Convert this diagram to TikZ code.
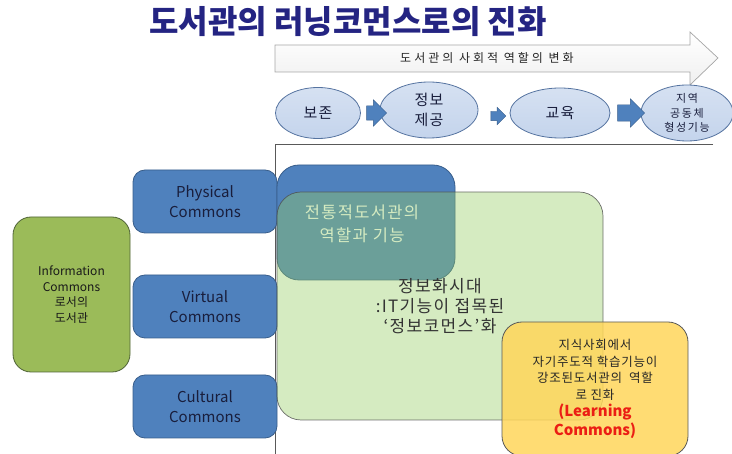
\documentclass[tikz,border=0pt]{standalone}
\usepackage{fontspec}
\setmainfont{Noto Sans CJK KR}
\usetikzlibrary{shapes.geometric,shapes.arrows}
\definecolor{navy}{RGB}{36,36,130}
\definecolor{bblue}{RGB}{79,129,189}
\definecolor{bblueD}{RGB}{56,93,138}
\definecolor{olivebox}{RGB}{155,187,89}
\definecolor{oliveD}{RGB}{80,100,55}
\definecolor{lgreen}{RGB}{150,205,100}
\definecolor{ellfill}{RGB}{196,212,236}
\definecolor{ellline}{RGB}{85,115,160}
\definecolor{ylw}{RGB}{255,214,90}
\definecolor{txtdark}{RGB}{25,30,60}
\definecolor{lcred}{RGB}{235,30,20}
\begin{document}
\begin{tikzpicture}[x=1pt,y=-1pt,
  commons/.style={draw=bblueD, line width=0.8pt, fill=bblue, rounded corners=12pt, inner sep=0pt,
    minimum width=144pt, minimum height=63pt, align=center, text=txtdark,
    font=\fontsize{15}{19.5}\selectfont},
  ell/.style={ellipse, draw=ellline, line width=0.8pt, top color=ellfill!70!white, bottom color=ellfill,
    inner sep=0pt, align=center, text=txtdark},
  barrow/.style={single arrow, draw=bblueD, fill=bblue, inner xsep=0pt}]
\useasboundingbox (0,0) rectangle (732,454);

% title
\node[font=\fontsize{32}{36}\selectfont\bfseries, text=navy] (title) at (348,22) {도서관의 러닝코먼스로의 진화};

% big arrow
\draw[draw=gray!70, top color=white, bottom color=gray!12, line width=0.7pt]
  (275,45) -- (690,45) -- (690,32) -- (718,58) -- (690,85) -- (690,72) -- (275,72) -- cycle;
\node[font=\fontsize{12}{14}\selectfont\addfontfeature{LetterSpace=25}, text=black!85] (role) at (487,58) {도서관의 사회적 역할의 변화};

% frame
\coordinate (fTL) at (275,144);
\coordinate (fTR) at (713,144);
\coordinate (fBL) at (275,454);
\draw[gray!70!black, line width=0.8pt] (fTR) -- (fTL) -- (fBL);

% ellipses
\node[ell, minimum width=85pt, minimum height=51pt, font=\fontsize{15}{19}\selectfont\addfontfeature{LetterSpace=8}] (e1) at (318,113) {보존};
\node[ell, minimum width=98pt, minimum height=56pt, font=\fontsize{15}{20}\selectfont\addfontfeature{LetterSpace=8}] (e2) at (429,110) {정보\\제공};
\node[ell, minimum width=100pt, minimum height=50pt, font=\fontsize{15}{19}\selectfont\addfontfeature{LetterSpace=8}] (e3) at (560,113) {교육};
\node[ell, minimum width=92pt, minimum height=56pt, font=\fontsize{11}{14.5}\selectfont\addfontfeature{LetterSpace=15}] (e4) at (687,113) {지역\\공동체\\형성기능};

\node[barrow, minimum height=20pt, inner ysep=7pt, single arrow head extend=6pt] (a1) at (373,113) {};
\node[barrow, minimum height=15pt, inner ysep=4.5pt, single arrow head extend=4pt] (a2) at (496,116) {};
\node[barrow, minimum height=27pt, inner ysep=8pt, single arrow head extend=6pt] (a3) at (627,113) {};

% information commons box
\node[draw=oliveD, line width=0.8pt, fill=olivebox, rounded corners=18pt, inner sep=0pt,
  minimum width=117pt, minimum height=155pt, align=center, text=black!90,
  font=\fontsize{12}{15.5}\selectfont] (ic) at (71.5,294.5) {Information\\Commons\\로서의\\도서관};

% commons boxes
\node[commons] (phys) at (205,201.5) {Physical\\Commons};
\node[commons] (virt) at (205,306.5) {Virtual\\Commons};
\node[commons] (cult) at (205,406.5) {Cultural\\Commons};

% traditional library box
\node[draw=bblueD, line width=0.8pt, fill=bblue, rounded corners=22pt, inner sep=0pt,
  minimum width=178pt, minimum height=115pt] (trad) at (366,222.5) {};
\node[align=center, text=white, font=\fontsize{16.5}{23}\selectfont\addfontfeature{LetterSpace=8}] (tradtxt) at (362,224) {전통적도서관의\\역할과 기능};

% information age box (semi-transparent)
\node[draw=gray!60!black, line width=0.7pt, fill=lgreen, fill opacity=0.4, text opacity=1,
  draw opacity=0.8, rounded corners=24pt, inner sep=0pt,
  minimum width=326pt, minimum height=228pt, align=center, text=black!80,
  font=\fontsize{17}{20}\selectfont\addfontfeature{LetterSpace=8}] (info) at (440,306) {정보화시대\\:IT기능이 접목된\\‘정보코먼스’화};

% learning commons box
\node[draw=gray!70!black, line width=0.8pt, fill=ylw, fill opacity=0.85, text opacity=1,
  rounded corners=20pt, inner sep=0pt, minimum width=186pt, minimum height=134pt,
  align=center, text=black!85, font=\fontsize{12.5}{16.5}\selectfont\addfontfeature{LetterSpace=6}] (lc) at (595,389)
  {지식사회에서\\자기주도적 학습기능이\\강조된도서관의 \ 역할\\로 진화\\[1pt]
   {\fontsize{15}{20}\selectfont\bfseries\addfontfeature{LetterSpace=0}\color{lcred}(Learning}\\[2pt]
   {\fontsize{15}{20}\selectfont\bfseries\addfontfeature{LetterSpace=0}\color{lcred}Commons)}};
\end{tikzpicture}
\end{document}
